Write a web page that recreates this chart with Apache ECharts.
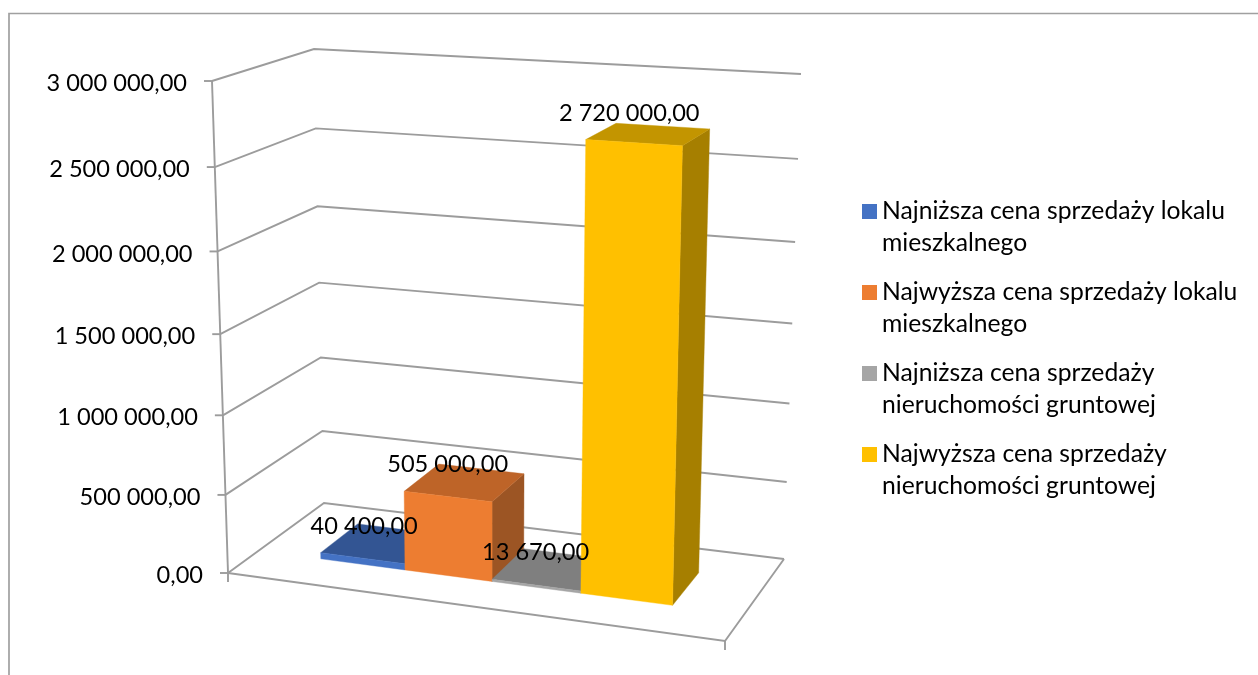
<!DOCTYPE html>
<html><head><meta charset="utf-8">
<style>html,body{margin:0;padding:0;background:#fff}#c{width:1258px;height:675px}</style>
<script src="https://cdn.jsdelivr.net/npm/echarts@6/dist/echarts.min.js"></script>
</head><body><div id="c"></div>
<script>
const categories = ['Ceny'];
const seriesNames = [
  'Najniższa cena sprzedaży lokalu\nmieszkalnego',
  'Najwyższa cena sprzedaży lokalu\nmieszkalnego',
  'Najniższa cena sprzedaży\nnieruchomości gruntowej',
  'Najwyższa cena sprzedaży\nnieruchomości gruntowej'
];
const seriesValues = [40400, 505000, 13670, 2720000];
const tickValues = [0, 500000, 1000000, 1500000, 2000000, 2500000, 3000000];

const FONT = 'Lato';
const LABEL_SIZE = 23.6;
const LEGEND_SIZE = 24.7;
const colors = ['#4472C4', '#ED7D31', '#A5A5A5', '#FFC000'];
const topColors = ['#335593', '#BE6428', '#7F7F7F', '#C39500'];
const sideColors = ['#2A4A80', '#9C5524', '#6E6E6E', '#A67F00'];
const lineColor = '#9C9C9C';

// projected box of the 3D plot: floor corners and the height vectors above them
const floorC = {FL:[228,573], FR:[725,641], BR:[784,559], BL:[324,503]};
const topC   = {FL:[212,81],  FR:[739.5,112], BR:[801,74], BL:[314,49]};
const barEdges = [0.128, 0.3015, 0.481, 0.664, 0.853];
const barDepth = [0.32, 0.725];
const PERSP = 0.06;
const lerp = (a,b,k) => [a[0]+(b[0]-a[0])*k, a[1]+(b[1]-a[1])*k];
function project(u, w, t) {
  const s = t / (1 + PERSP * (1 - t));
  const corner = c => lerp(lerp(c.FL, c.FR, u), lerp(c.BL, c.BR, u), w);
  return lerp(corner(floorC), corner(topC), s);
}
const fmt = v => {
  const p = v.toFixed(2).split('.');
  return p[0].replace(/\B(?=(\d{3})+(?!\d))/g, ' ') + ',' + p[1];
};
function heightOf(api, v) {
  const y0 = api.coord([0, 0])[1], y1 = api.coord([0, 3000000])[1];
  return (api.coord([0, v])[1] - y0) / (y1 - y0);
}
const line = (pts) => ({type:'polyline', shape:{points:pts}, silent:true,
  style:{stroke:lineColor, lineWidth:1.9, fill:null}});

function renderWall(params, api) {
  const v = api.value(1), t = heightOf(api, v);
  const a = project(0,0,t), b = project(0,1,t), c = project(1,1,t);
  const kids = [
    line([a,b,c]),
    line([[a[0]-8,a[1]],a]),
    {type:'text', silent:true, style:{text:fmt(v), x:a[0]-25, y:a[1]+2.5, align:'right', verticalAlign:'middle',
      font:LABEL_SIZE+'px '+FONT, fill:'#000'}}
  ];
  if (params.dataIndex === 0) {
    const d = project(1,0,0);
    kids.push(line([a,project(0,0,1)]));
    kids.push(line([a,d,c]));
    kids.push(line([a,[a[0],a[1]+9]]));
    kids.push(line([d,[d[0],d[1]+9]]));
  }
  return {type:'group', children:kids};
}
const poly = (pts, fill) => ({type:'polygon', shape:{points:pts}, silent:true,
  style:{fill:fill, stroke:fill, lineWidth:0.4}});
function barRenderer(i) {
  return function (params, api) {
    const v = api.value(1), t = heightOf(api, v);
    const u0 = barEdges[i], u1 = barEdges[i+1], w0 = barDepth[0], w1 = barDepth[1];
    const p = (u,w,h) => project(u,w,h);
    const tl = p(u0,w0,t);
    return {type:'group', children:[
      poly([p(u1,w0,0),p(u1,w1,0),p(u1,w1,t),p(u1,w0,t)], sideColors[i]),
      poly([p(u0,w0,t),p(u1,w0,t),p(u1,w1,t),p(u0,w1,t)], topColors[i]),
      poly([p(u0,w0,0),p(u1,w0,0),p(u1,w0,t),p(u0,w0,t)], colors[i]),
      {type:'text', silent:true, z2:100, style:{text:fmt(v), x:tl[0]+43.5, y:tl[1]-26.5, align:'center', verticalAlign:'middle',
        font:LABEL_SIZE+'px '+FONT, fill:'#000'}}
    ]};
  };
}

const series = [{
  type:'custom', name:'siatka', renderItem:renderWall, silent:true, clip:false,
  data:tickValues.map(v => [categories[0], v]), encode:{x:0,y:1}, z:1
}];
seriesNames.forEach((n,i) => series.push({
  type:'custom', name:n, renderItem:barRenderer(i), silent:true, clip:false,
  itemStyle:{color:colors[i]},
  data:[[categories[0], seriesValues[i]]], encode:{x:0,y:1}, z:2
}));

const chart = echarts.init(document.getElementById('c'), null, {renderer:'canvas'});
chart.setOption({
  animation:false,
  backgroundColor:'#fff',
  color:colors,
  tooltip:{show:false},
  grid:{left:228, width:497, top:81, height:492, containLabel:false},
  xAxis:{type:'category', data:categories, show:false},
  yAxis:{type:'value', min:0, max:3000000, interval:500000, show:false},
  legend:{
    data:seriesNames, orient:'vertical', left:862, top:195.5, padding:0,
    itemWidth:15, itemHeight:64, itemGap:17, selectedMode:false,
    icon:'path://M0,0L0,0Z M0,8.5H15V23.5H0Z M0,64L0,64Z',
    textStyle:{fontFamily:FONT, fontSize:LEGEND_SIZE, lineHeight:32, color:'#000'}
  },
  graphic:[{type:'polyline', silent:true, shape:{points:[[9,675],[9,13.5],[1258,13.5]]},
    style:{stroke:'#A0A0A0', lineWidth:1.7, fill:null}}],
  series:series
});
</script></body></html>
